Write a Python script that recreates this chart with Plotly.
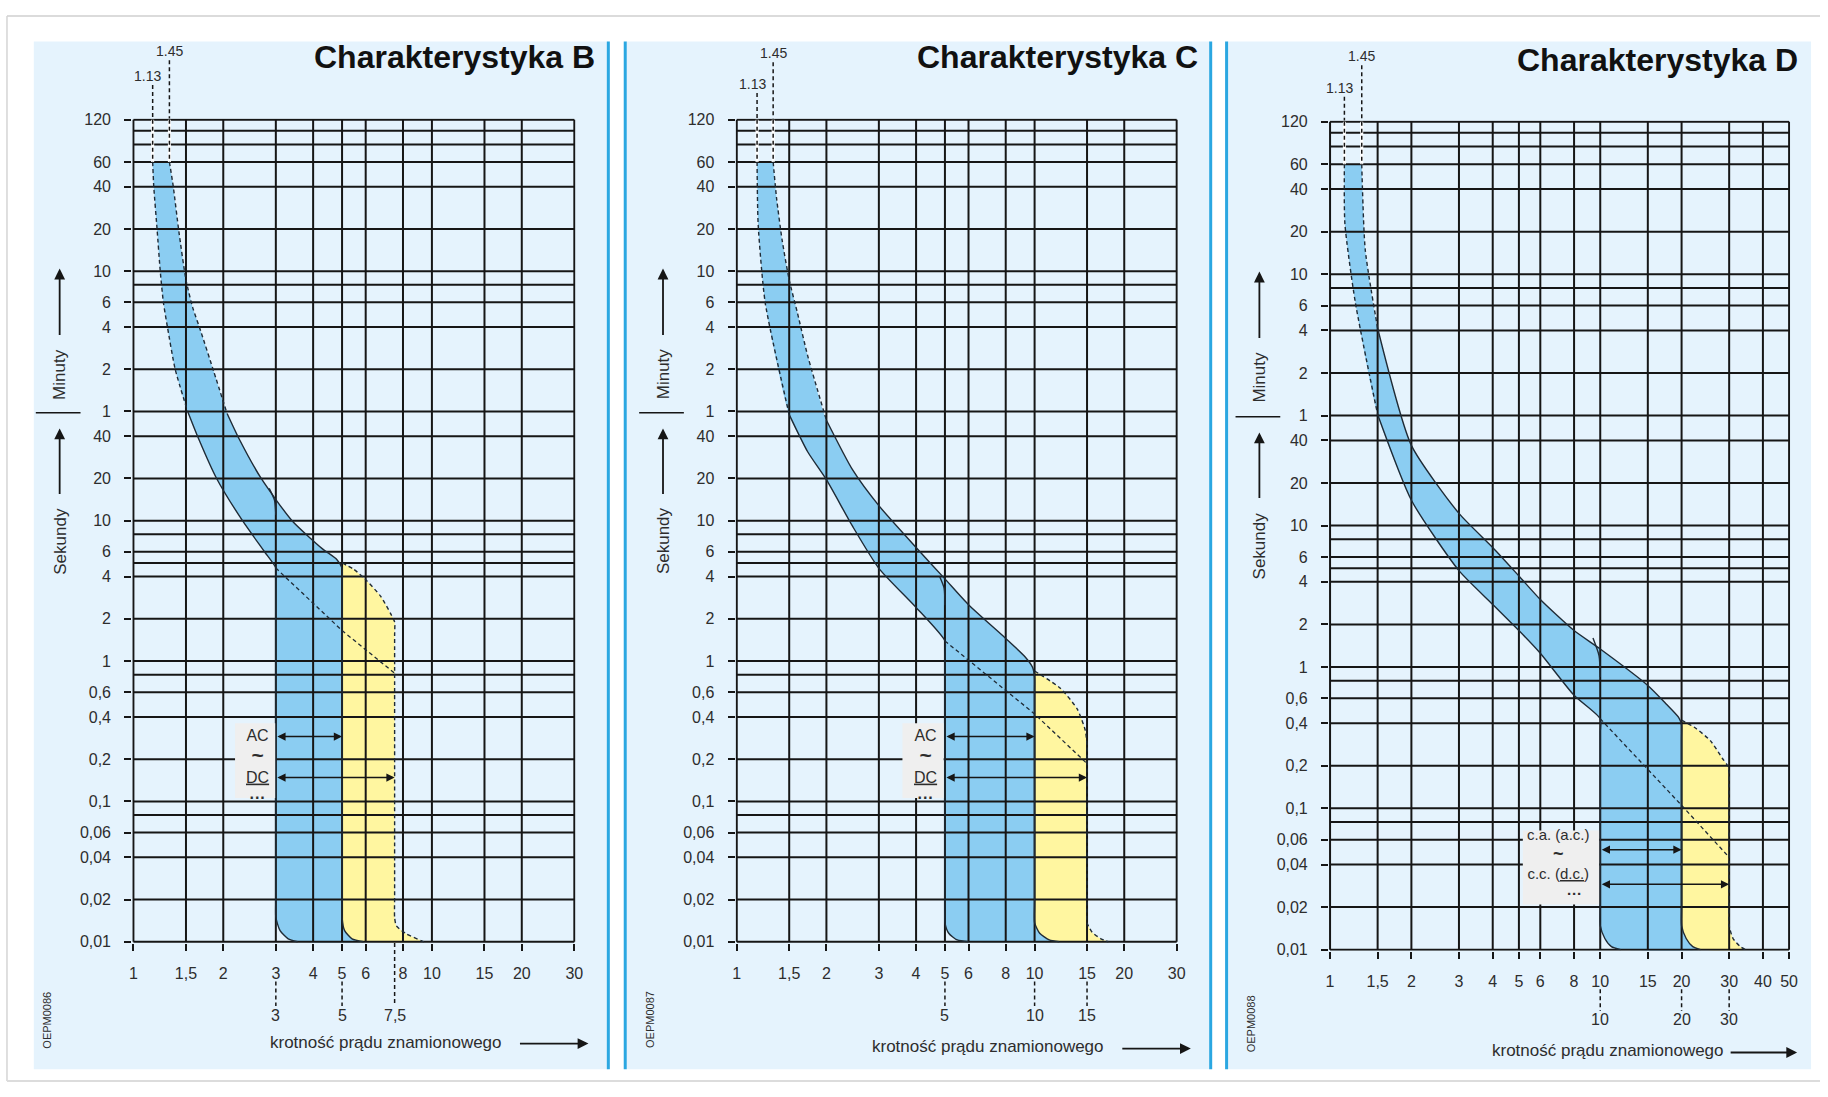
import math
import plotly.graph_objects as go

W, H = 1828, 1097
FONT = "Liberation Sans, Arial, Helvetica, sans-serif"
INK = "#161616"
TXT = "#2d2d2d"
OUTLINE = "#1f2b36"
BLUE = "#8bcdf2"
YELLOW = "#fff6a0"
PLOT_BG = "#efefef"
PANEL_BG = "#e5f3fd"
EDGE = "#2ba7e1"

# ---------------- axis data ----------------
X_TICKS_BC = [1, 1.5, 2, 3, 4, 5, 6, 8, 10, 15, 20, 30]
X_LABELS_BC = ["1", "1,5", "2", "3", "4", "5", "6", "8", "10", "15", "20", "30"]
X_TICKS_D = [1, 1.5, 2, 3, 4, 5, 6, 8, 10, 15, 20, 30, 40, 50]
X_LABELS_D = ["1", "1,5", "2", "3", "4", "5", "6", "8", "10", "15", "20", "30", "40", "50"]

Y_MINUTES = [120, 60, 40, 20, 10, 6, 4, 2, 1]
Y_MINUTE_LABELS = ["120", "60", "40", "20", "10", "6", "4", "2", "1"]
Y_SECONDS = [40, 20, 10, 6, 4, 2, 1, 0.6, 0.4, 0.2, 0.1, 0.06, 0.04, 0.02, 0.01]
Y_SECOND_LABELS = ["40", "20", "10", "6", "4", "2", "1", "0,6", "0,4", "0,2",
                   "0,1", "0,06", "0,04", "0,02", "0,01"]
GRID_EXTRA_MINUTES = [100, 80, 8]
GRID_EXTRA_SECONDS = [8, 5, 0.8, 0.08]
T_TOP = 7200      # 120 min in seconds
T_BOTTOM = 0.01

# ---------------- characteristic B ----------------
B_TOP_X = [1.16, 1.32]
B_LOW_X = [1.16, 1.17, 1.2, 1.23, 1.26, 1.3, 1.38, 1.52, 1.64, 1.9, 2.32, 2.75, 3.0]
B_LOW_T = [3600, 2400, 1200, 600, 360, 240, 120, 60, 40, 20, 10, 6, 4.6]
B_UP_X = [1.32, 1.36, 1.42, 1.5, 1.58, 1.68, 1.86, 2.06, 2.25, 2.68, 3.4, 4.3, 4.8, 5.0]
B_UP_T = [3600, 2400, 1150, 520, 330, 225, 115, 58, 39, 20, 10, 6.3, 5.3, 4.6]
B_YEL_X = [5.0, 5.48, 6.0, 6.73, 7.28, 7.5]
B_YEL_T = [5.0, 4.5, 3.8, 2.9, 2.17, 1.9]
B_BFOOT_X = [3.0, 3.1, 3.3, 3.55]
B_BFOOT_T = [0.0149, 0.012, 0.0105, 0.01]
B_YFOOT_X = [5.0, 5.1, 5.4, 5.9]
B_YFOOT_T = [0.0149, 0.012, 0.0105, 0.01]
B_TAIL_X = [7.5, 7.6, 8.2, 9.2, 9.4]
B_TAIL_T = [0.0149, 0.013, 0.0114, 0.0102, 0.01]
B_DASH_X = [3.0, 5.0, 7.5]
B_DASH_T = [4.6, 1.65, 0.82]
B_KINK_X = [2.85, 2.97, 3.0]
B_KINK_T = [17, 14, 11]
B_AC = [3, 5, 0.29]
B_DC = [3, 7.5, 0.148]
B_REF_X = [3, 5, 7.5]
B_REF_LABELS = ["3", "5", "7,5"]

# ---------------- characteristic C ----------------
C_TOP_X = [1.17, 1.325]
C_LOW_X = [1.17, 1.18, 1.246, 1.5, 1.73, 2.0, 2.45, 3.0, 4.0, 5.0]
C_LOW_T = [3600, 1290, 357, 57, 31, 19.6, 9.1, 4.58, 2.41, 1.39]
C_UP_X = [1.325, 1.36, 1.42, 1.5, 1.6, 1.73, 2.0, 2.45, 3.0, 4.0, 5.0, 6.0, 8.0, 9.3, 9.85, 10.0]
C_UP_T = [3600, 2000, 1000, 520, 300, 150, 52, 23, 12.8, 6.45, 3.85, 2.52, 1.45, 1.07, 0.9, 0.76]
C_YEL_X = [10.0, 12.2, 13.9, 14.8, 15.0]
C_YEL_T = [0.85, 0.64, 0.456, 0.32, 0.25]
C_BFOOT_X = [5.0, 5.15, 5.5, 6.0]
C_BFOOT_T = [0.0137, 0.0115, 0.0103, 0.01]
C_YFOOT_X = [10.0, 10.4, 11.2, 12.1]
C_YFOOT_T = [0.0137, 0.0115, 0.0103, 0.01]
C_TAIL_X = [15.0, 15.6, 16.7, 17.7]
C_TAIL_T = [0.0137, 0.0117, 0.0105, 0.01]
C_DASH_X = [5.0, 10.0, 15.0]
C_DASH_T = [1.39, 0.42, 0.186]
C_KINK_X = [4.8, 4.97, 5.0]
C_KINK_T = [4.0, 3.3, 2.5]
C_AC = [5, 10, 0.29]
C_DC = [5, 15, 0.148]
C_REF_X = [5, 10, 15]
C_REF_LABELS = ["5", "10", "15"]

# ---------------- characteristic D ----------------
D_TOP_X = [1.13, 1.31]
D_LOW_X = [1.13, 1.135, 1.24, 1.5, 2.0, 3.0, 4.0, 5.0, 6.0, 8.0, 10.0]
D_LOW_T = [3600, 1360, 380, 61, 15.1, 4.8, 2.77, 1.81, 1.25, 0.63, 0.43]
D_UP_X = [1.31, 1.35, 1.5, 2.0, 3.0, 4.0, 5.0, 6.0, 8.0, 10.0, 15.0, 17.5, 19.5, 20.0]
D_UP_T = [3600, 890, 249, 36.9, 12.2, 7.0, 4.4, 3.0, 1.81, 1.34, 0.74, 0.55, 0.44, 0.39]
D_YEL_X = [20.0, 22.5, 25.6, 28.3, 29.6, 30.0]
D_YEL_T = [0.42, 0.37, 0.30, 0.226, 0.2, 0.18]
D_BFOOT_X = [10.0, 10.4, 11.0, 11.9]
D_BFOOT_T = [0.0148, 0.012, 0.0105, 0.01]
D_YFOOT_X = [20.0, 20.8, 22.0, 23.5]
D_YFOOT_T = [0.0148, 0.012, 0.0105, 0.01]
D_TAIL_X = [30.0, 31.0, 33.0, 34.5]
D_TAIL_T = [0.0148, 0.012, 0.0105, 0.01]
D_DASH_X = [10.0, 20.0, 30.0]
D_DASH_T = [0.43, 0.105, 0.045]
D_KINK_X = [9.4, 9.9, 10.0]
D_KINK_T = [1.6, 1.2, 0.85]
D_AC = [10, 20, 0.051]
D_DC = [10, 30, 0.029]
D_REF_X = [10, 20, 30]
D_REF_LABELS = ["10", "20", "30"]

# ---------------- layout geometry (pixels) ----------------
PANELS = [
    dict(name="B", x0=130, x1=576, y0=113, y1=948, xmax=30, xticks=X_TICKS_BC, xlabels=X_LABELS_BC,
         title="Charakterystyka B", title_xy=(598, 51), lbl145_y=45, lbl113_y=70,
         side_x=57, minuty_y=372, min_arrow=(265, 333), sep_y=411, sep_x=(33, 78),
         sek_y=541, sek_arrow=(427, 494), oepm=("OEPM0086", 44, 1026),
         krot=(385, 1049), krot_arrow=(519, 589, 1050), ref_y=1022, ref_dash=(987, 1012),
         lbl_x=2.61, lbl_t=0.177, box=(2.19, 2.985, 0.106, 0.36), style="AC",
         top_x=B_TOP_X, low=(B_LOW_X, B_LOW_T), up=(B_UP_X, B_UP_T), yel=(B_YEL_X, B_YEL_T),
         bfoot=(B_BFOOT_X, B_BFOOT_T), yfoot=(B_YFOOT_X, B_YFOOT_T), tail=(B_TAIL_X, B_TAIL_T),
         dash=(B_DASH_X, B_DASH_T), kink=(B_KINK_X, B_KINK_T), ac=B_AC, dc=B_DC,
         ref=(B_REF_X, B_REF_LABELS)),
    dict(name="C", x0=737, x1=1182, y0=113, y1=948, xmax=30, xticks=X_TICKS_BC, xlabels=X_LABELS_BC,
         title="Charakterystyka C", title_xy=(1204, 51), lbl145_y=47, lbl113_y=78,
         side_x=664, minuty_y=372, min_arrow=(265, 333), sep_y=411, sep_x=(640, 685),
         sek_y=541, sek_arrow=(427, 494), oepm=("OEPM0087", 651, 1026),
         krot=(991, 1053), krot_arrow=(1125, 1195, 1055), ref_y=1022, ref_dash=(987, 1012),
         lbl_x=4.29, lbl_t=0.177, box=(3.6, 4.95, 0.106, 0.36), style="AC",
         top_x=C_TOP_X, low=(C_LOW_X, C_LOW_T), up=(C_UP_X, C_UP_T), yel=(C_YEL_X, C_YEL_T),
         bfoot=(C_BFOOT_X, C_BFOOT_T), yfoot=(C_YFOOT_X, C_YFOOT_T), tail=(C_TAIL_X, C_TAIL_T),
         dash=(C_DASH_X, C_DASH_T), kink=(C_KINK_X, C_KINK_T), ac=C_AC, dc=C_DC,
         ref=(C_REF_X, C_REF_LABELS)),
    dict(name="D", x0=1334, x1=1798, y0=115, y1=956, xmax=50, xticks=X_TICKS_D, xlabels=X_LABELS_D,
         title="Charakterystyka D", title_xy=(1808, 54), lbl145_y=50, lbl113_y=82,
         side_x=1264, minuty_y=375, min_arrow=(268, 336), sep_y=415, sep_x=(1240, 1285),
         sek_y=546, sek_arrow=(431, 498), oepm=("OEPM0088", 1255, 1030),
         krot=(1615, 1057), krot_arrow=(1737, 1805, 1059), ref_y=1026, ref_dash=(995, 1017),
         lbl_x=7.0, lbl_t=0.0405, box=(5.17, 9.9, 0.0209, 0.0697), style="ca",
         top_x=D_TOP_X, low=(D_LOW_X, D_LOW_T), up=(D_UP_X, D_UP_T), yel=(D_YEL_X, D_YEL_T),
         bfoot=(D_BFOOT_X, D_BFOOT_T), yfoot=(D_YFOOT_X, D_YFOOT_T), tail=(D_TAIL_X, D_TAIL_T),
         dash=(D_DASH_X, D_DASH_T), kink=(D_KINK_X, D_KINK_T), ac=D_AC, dc=D_DC,
         ref=(D_REF_X, D_REF_LABELS)),
]

Y_TICKVALS = [m * 60 for m in Y_MINUTES] + Y_SECONDS
Y_TICKTEXT = Y_MINUTE_LABELS + Y_SECOND_LABELS
GRID_T = Y_TICKVALS + [m * 60 for m in GRID_EXTRA_MINUTES] + GRID_EXTRA_SECONDS


def lg(v):
    return math.log10(v)


def px(x):
    return x / W


def py(y):
    return 1 - y / H


def text_ann(**kw):
    d = dict(showarrow=False, xanchor="center", yanchor="middle")
    d.update(kw)
    return d


fig = go.Figure()
layout = {}
shapes = []
annotations = []

axis_common = dict(type="log", showgrid=False, zeroline=False, showline=False, ticks="outside",
                   ticklen=7, tickwidth=2, tickcolor=INK, fixedrange=True,
                   tickfont=dict(family=FONT, size=16, color=TXT))

# outer frame / panel backgrounds
PANEL_BOXES = [(31, 609), (627, 1214), (1231, 1819)]
for (a, b) in PANEL_BOXES:
    shapes.append(dict(type="rect", xref="paper", yref="paper", x0=px(a), x1=px(b), y0=py(1076), y1=py(35),
                       fillcolor=PANEL_BG, line=dict(width=0), layer="below"))
for xe in [609, 626, 1215, 1231]:
    shapes.append(dict(type="line", xref="paper", yref="paper", x0=px(xe), x1=px(xe), y0=py(1076), y1=py(35),
                       line=dict(color=EDGE, width=3), layer="below"))
shapes.append(dict(type="line", xref="paper", yref="paper", x0=px(4), x1=1, y0=py(9), y1=py(9),
                   line=dict(color="#cfcfcf", width=1.5), layer="below"))
shapes.append(dict(type="line", xref="paper", yref="paper", x0=px(4), x1=px(4), y0=py(1088), y1=py(9),
                   line=dict(color="#d5d5d5", width=1.5), layer="below"))
shapes.append(dict(type="line", xref="paper", yref="paper", x0=px(4), x1=1, y0=py(1088), y1=py(1088),
                   line=dict(color="#dcdcdc", width=2), layer="below"))

for i, P in enumerate(PANELS, start=1):
    xa = "x" if i == 1 else f"x{i}"
    ya = "y" if i == 1 else f"y{i}"
    xname = "xaxis" if i == 1 else f"xaxis{i}"
    yname = "yaxis" if i == 1 else f"yaxis{i}"
    layout[xname] = dict(domain=[px(P["x0"]), px(P["x1"])], anchor=ya,
                         range=[-0.004, lg(P["xmax"]) + 0.004],
                         tickvals=P["xticks"], ticktext=P["xlabels"], ticklabelstandoff=9, **axis_common)
    layout[yname] = dict(domain=[py(P["y1"]), py(P["y0"])], anchor=xa,
                         range=[lg(T_BOTTOM) - 0.008, lg(T_TOP) + 0.008],
                         tickvals=Y_TICKVALS, ticktext=Y_TICKTEXT, ticklabelstandoff=10, **axis_common)

    low_x, low_t = P["low"]
    up_x, up_t = P["up"]
    yel_x, yel_t = P["yel"]
    bf_x, bf_t = P["bfoot"]
    yf_x, yf_t = P["yfoot"]
    tl_x, tl_t = P["tail"]
    xm, tc = low_x[-1], low_t[-1]
    xy, tu = up_x[-1], up_t[-1]
    xr, tr = yel_x[-1], yel_t[-1]

    # blue band polygon
    blue_x = low_x + [xm, xm] + bf_x + yf_x[::-1] + [xy, xy] + up_x[::-1]
    blue_t = low_t + [tc * 0.8, bf_t[0] * 1.4] + bf_t + yf_t[::-1] + [yf_t[0] * 1.4, tu * 0.8] + up_t[::-1]
    fig.add_trace(go.Scatter(x=blue_x, y=blue_t, xaxis=xa, yaxis=ya, mode="lines", fill="toself",
                             fillcolor=BLUE, line=dict(width=0, shape="spline", smoothing=0.6),
                             hoverinfo="skip", showlegend=False))
    # yellow (DC) polygon
    yel_px = yel_x + [xr, xr] + tl_x + yf_x[::-1] + [yf_x[0]]
    yel_pt = yel_t + [tr * 0.8, tl_t[0] * 1.4] + tl_t + yf_t[::-1] + [yf_t[0] * 1.4]
    fig.add_trace(go.Scatter(x=yel_px, y=yel_pt, xaxis=xa, yaxis=ya, mode="lines", fill="toself",
                             fillcolor=YELLOW, line=dict(width=0, shape="spline", smoothing=0.6),
                             hoverinfo="skip", showlegend=False))

    # grid (drawn over the fills, as in the original)
    gx, gy = [], []
    for t in GRID_T:
        gx += [1, P["xmax"], None]
        gy += [t, t, None]
    for xv in P["xticks"]:
        gx += [xv, xv, None]
        gy += [T_BOTTOM, T_TOP, None]
    fig.add_trace(go.Scatter(x=gx, y=gy, xaxis=xa, yaxis=ya, mode="lines",
                             line=dict(color=INK, width=2), hoverinfo="skip", showlegend=False))

    # outlines
    k1 = sum(1 for t in low_t if t >= 56)
    k2 = sum(1 for t in up_t if t >= 45)
    sp = dict(shape="spline", smoothing=0.6)
    fig.add_trace(go.Scatter(x=low_x[:k1], y=low_t[:k1], xaxis=xa, yaxis=ya, mode="lines",
                             line=dict(color=OUTLINE, width=1.4, dash="4px,3px", **sp),
                             hoverinfo="skip", showlegend=False))
    fig.add_trace(go.Scatter(x=low_x[k1 - 1:] + [xm, xm] + bf_x, y=low_t[k1 - 1:] + [tc * 0.8, bf_t[0] * 1.4] + bf_t,
                             xaxis=xa, yaxis=ya, mode="lines", line=dict(color=OUTLINE, width=1.4, **sp),
                             hoverinfo="skip", showlegend=False))
    fig.add_trace(go.Scatter(x=up_x[:k2], y=up_t[:k2], xaxis=xa, yaxis=ya, mode="lines",
                             line=dict(color=OUTLINE, width=1.4, dash="4px,3px", **sp),
                             hoverinfo="skip", showlegend=False))
    fig.add_trace(go.Scatter(x=up_x[k2 - 1:] + [xy, xy] + yf_x, y=up_t[k2 - 1:] + [tu * 0.8, yf_t[0] * 1.4] + yf_t,
                             xaxis=xa, yaxis=ya, mode="lines", line=dict(color=OUTLINE, width=1.4, **sp),
                             hoverinfo="skip", showlegend=False))
    fig.add_trace(go.Scatter(x=yel_x + [xr, xr] + tl_x, y=yel_t + [tr * 0.8, tl_t[0] * 1.4] + tl_t,
                             xaxis=xa, yaxis=ya, mode="lines",
                             line=dict(color=OUTLINE, width=1.4, dash="4px,3px", **sp),
                             hoverinfo="skip", showlegend=False))
    dx, dt = P["dash"]
    fig.add_trace(go.Scatter(x=dx, y=dt, xaxis=xa, yaxis=ya, mode="lines",
                             line=dict(color=OUTLINE, width=1.3, dash="4px,3px"),
                             hoverinfo="skip", showlegend=False))
    kx, kt = P["kink"]
    fig.add_trace(go.Scatter(x=kx, y=kt, xaxis=xa, yaxis=ya, mode="lines",
                             line=dict(color=OUTLINE, width=1.4, **sp), hoverinfo="skip", showlegend=False))
    # 1.13 / 1.45 dashed lines inside the plot (120 -> 60 min)
    for xv in P["top_x"]:
        fig.add_trace(go.Scatter(x=[xv, xv], y=[T_TOP, 3600], xaxis=xa, yaxis=ya, mode="lines",
                                 line=dict(color="#ffffff", width=3), hoverinfo="skip", showlegend=False))
        fig.add_trace(go.Scatter(x=[xv, xv], y=[T_TOP, 3600], xaxis=xa, yaxis=ya, mode="lines",
                                 line=dict(color=INK, width=1.5, dash="4px,3px"), hoverinfo="skip",
                                 showlegend=False))
        top_lbl_y = P["lbl145_y"] if xv == P["top_x"][1] else P["lbl113_y"]
        shapes.append(dict(type="line", xref=xa, yref="paper", x0=xv, x1=xv, y0=py(top_lbl_y + 9), y1=py(P["y0"]),
                           line=dict(color=INK, width=1.5, dash="4px,3px")))
    annotations.append(text_ann(text="1.45", x=lg(P["top_x"][1]), xref=xa, y=py(P["lbl145_y"]), yref="paper",
                                font=dict(family=FONT, size=14, color=TXT)))
    annotations.append(text_ann(text="1.13", x=lg(P["top_x"][0]), xref=xa, y=py(P["lbl113_y"]), yref="paper",
                                xshift=-5, font=dict(family=FONT, size=14, color=TXT)))

    # label box covering the grid
    b = P["box"]
    shapes.append(dict(type="rect", xref=xa, yref=ya, x0=b[0], x1=b[1], y0=b[2], y1=b[3],
                       fillcolor=PLOT_BG, line=dict(width=0), layer="above"))
    # AC / DC arrows
    for (xa0, xa1, tv) in [P["ac"], P["dc"]]:
        annotations.append(dict(x=lg(xa1), y=lg(tv), ax=lg(xa0), ay=lg(tv), xref=xa, yref=ya,
                                axref=xa, ayref=ya, text="", showarrow=True, arrowhead=2,
                                arrowside="end+start", arrowsize=1.1, arrowwidth=1.5,
                                arrowcolor=INK, standoff=0, startstandoff=0))
    if P["style"] == "AC":
        tilde = "<span style='font-size:21px'><b>~</b></span>"
        block = "AC<br>" + tilde + "<br><u>DC</u><br><b>···</b>"
        fs = 16
    else:
        tilde = "<span style='font-size:18px'><b>~</b></span>"
        block = ("c.a. (a.c.)<br>" + tilde + "<br>c.c. (<u>d.c.</u>)<br>"
                 "<span style='color:rgba(0,0,0,0)'>c.c. (</span><b>···</b>")
        fs = 15
    annotations.append(text_ann(text=block, x=lg(P["lbl_x"]), y=lg(P["lbl_t"]), xref=xa, yref=ya,
                                align="center", font=dict(family=FONT, size=fs, color=TXT)))

    # reference values below the axis
    rx, rl = P["ref"]
    for xv, lab in zip(rx, rl):
        ytop = P["ref_dash"][0] if xv in P["xticks"] else P["y1"]
        shapes.append(dict(type="line", xref=xa, yref="paper", x0=xv, x1=xv, y0=py(ytop), y1=py(P["ref_dash"][1]),
                           line=dict(color=INK, width=1.5, dash="4px,3px")))
        annotations.append(text_ann(text=lab, x=lg(xv), xref=xa, y=py(P["ref_y"]), yref="paper",
                                    font=dict(family=FONT, size=16, color=TXT)))

    # title
    annotations.append(text_ann(text="<b>" + P["title"] + "</b>", x=px(P["title_xy"][0]), y=py(P["title_xy"][1]),
                                xref="paper", yref="paper", xanchor="right",
                                font=dict(family=FONT, size=32, color="#111111")))
    # side labels
    sx = P["side_x"]
    annotations.append(text_ann(text="Minuty", x=px(sx), y=py(P["minuty_y"]), xref="paper", yref="paper",
                                textangle=-90, font=dict(family=FONT, size=17, color=TXT)))
    annotations.append(text_ann(text="Sekundy", x=px(sx), y=py(P["sek_y"]), xref="paper", yref="paper",
                                textangle=-90, font=dict(family=FONT, size=17, color=TXT)))
    for (hy, ty) in [P["min_arrow"], P["sek_arrow"]]:
        annotations.append(dict(text="", x=px(sx), y=py(hy), xref="paper", yref="paper", ax=0, ay=ty - hy,
                                showarrow=True, arrowhead=2, arrowsize=1.2, arrowwidth=1.8, arrowcolor=INK,
                                standoff=0))
    shapes.append(dict(type="line", xref="paper", yref="paper", x0=px(P["sep_x"][0]), x1=px(P["sep_x"][1]),
                       y0=py(P["sep_y"]), y1=py(P["sep_y"]), line=dict(color=INK, width=1.5)))
    annotations.append(text_ann(text=P["oepm"][0], x=px(P["oepm"][1]), y=py(P["oepm"][2]), xref="paper",
                                yref="paper", textangle=-90, font=dict(family=FONT, size=11, color=TXT)))
    annotations.append(text_ann(text="krotność prądu znamionowego", x=px(P["krot"][0]), y=py(P["krot"][1]),
                                xref="paper", yref="paper", font=dict(family=FONT, size=17, color=TXT)))
    ka = P["krot_arrow"]
    annotations.append(dict(text="", x=px(ka[1]), y=py(ka[2]), xref="paper", yref="paper",
                            ax=-(ka[1] - ka[0]), ay=0, showarrow=True, arrowhead=2, arrowsize=1.2,
                            arrowwidth=1.8, arrowcolor=INK, standoff=0))

fig.update_layout(layout)
fig.update_layout(width=W, height=H, margin=dict(l=0, r=0, t=0, b=0), paper_bgcolor="#ffffff",
                  plot_bgcolor=PLOT_BG, showlegend=False, shapes=shapes, annotations=annotations,
                  font=dict(family=FONT, color=TXT))
fig.write_html("out.html", config={"displayModeBar": False},
               post_script="document.body.style.margin='0px';document.body.style.overflow='hidden';")
